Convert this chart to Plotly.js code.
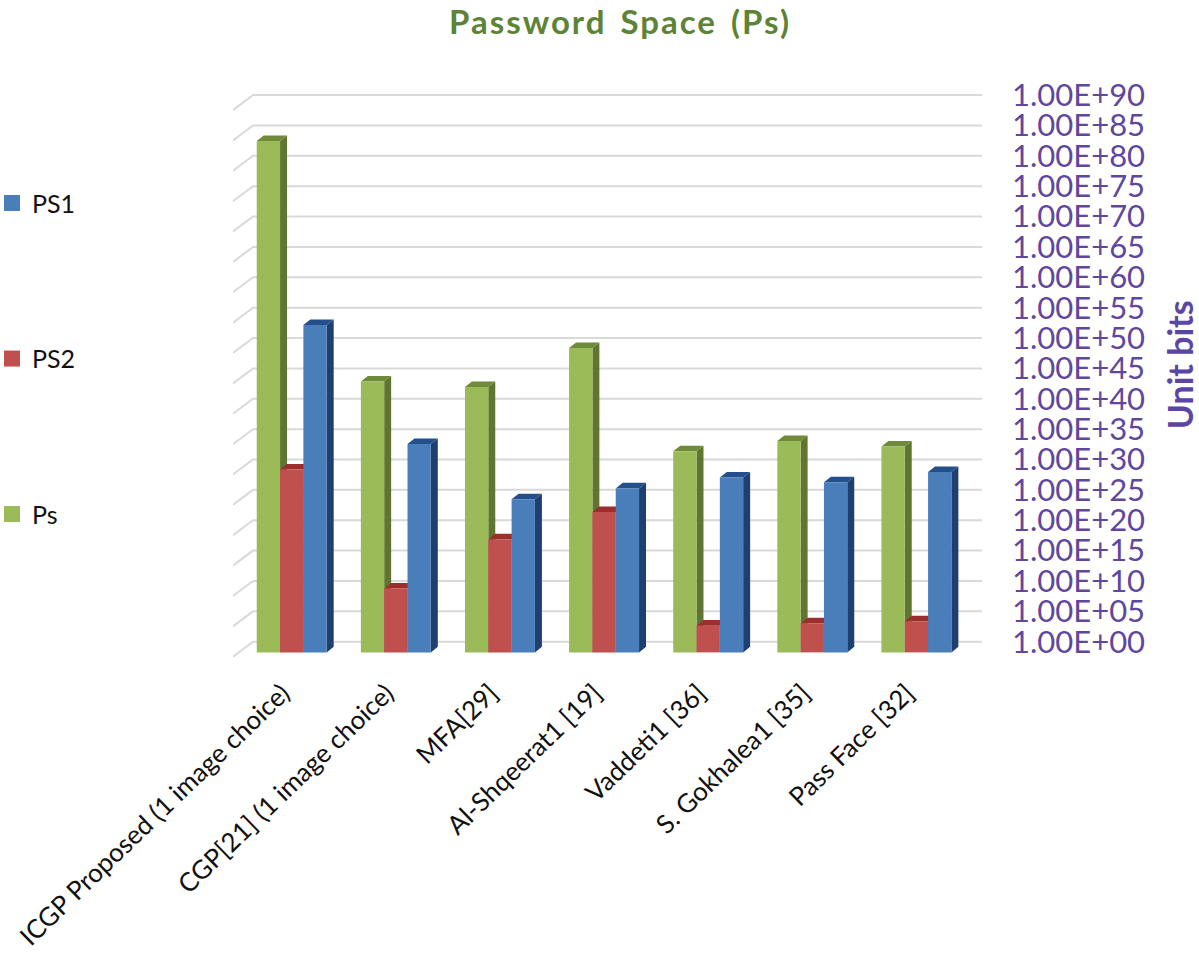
<!DOCTYPE html>
<html>
<head>
<meta charset="utf-8">
<script src="https://cdn.plot.ly/plotly-3.0.1.min.js"></script>
<style>
html, body { margin: 0; padding: 0; background: #fff; }
.gtitle { letter-spacing: 2px; word-spacing: 4px; }
</style>
</head>
<body>
<div id="chart" style="width:1199px;height:959px"></div>
<script>
const categories = ["ICGP Proposed (1 image choice)", "CGP[21] (1 image choice)", "MFA[29]", "Al-Shqeerat1 [19]", "Vaddeti1 [36]", "S. Gokhalea1 [35]", "Pass Face [32]"];
// values are the exponent of the 1.00E+xx axis
const ps = [84.2, 44.6, 43.7, 50.1, 33.1, 34.8, 33.9];
const ps2 = [30.1, 10.5, 18.6, 23.1, 4.4, 4.8, 5.1];
const ps1 = [53.9, 34.3, 25.2, 27.0, 28.8, 28.0, 29.7];
const tickExps = [0, 5, 10, 15, 20, 25, 30, 35, 40, 45, 50, 55, 60, 65, 70, 75, 80, 85, 90];
const tickLabels = tickExps.map((e) => "1.00E+" + String(e).padStart(2, "0"));

const seriesColors = {Ps: "#9bbb59", PS2: "#c0504d", PS1: "#4a7ebb"};
const sideColors = {Ps: "#5f7530", PS2: "#8c3836", PS1: "#1f3f70"};
const topColors = {Ps: "#6f8a38", PS2: "#9c2f2c", PS1: "#23508c"};

// fake 3d: depth of the bars and the wall, in axis units
const xRange = [-0.564, 6.63];
const yRange = [-4, 91];
const barGap = 0.328;
const barWidth = (1 - barGap) / 3;
const barBase = -1.76;
const depthX = 0.067;
const depthY = 0.92;
const wallX = 0.192;
const wallY = 2.47;
const labelShift = 0.09;

const idx = categories.map((c, i) => i);

function gridTrace() {
  let x = [], y = [];
  tickExps.forEach((e) => {
    x.push(xRange[0], xRange[0] + wallX, xRange[1], null);
    y.push(e - wallY, e, e, null);
  });
  return {x, y, mode: "lines", line: {color: "#d9d9d9", width: 2}, showlegend: false, hoverinfo: "skip", cliponaxis: false};
}

function faceTraces(name, values, slot) {
  let sideX = [], sideY = [], topX = [], topY = [];
  values.forEach((v, i) => {
    let left = i - 1.5 * barWidth + slot * barWidth;
    let right = left + barWidth;
    let top = barBase + v;
    sideX.push(right, right + depthX, right + depthX, right, null);
    sideY.push(barBase, barBase + depthY, top + depthY, top, null);
    topX.push(left, left + depthX, right + depthX, right, null);
    topY.push(top, top + depthY, top + depthY, top, null);
  });
  let face = (x, y, color) => ({x, y, mode: "lines", fill: "toself", fillcolor: color, line: {width: 0, color: color}, showlegend: false, hoverinfo: "skip"});
  return [face(sideX, sideY, sideColors[name]), face(topX, topY, topColors[name])];
}

function barTrace(name, values) {
  return {
    type: "bar", name, x: idx, y: values, base: barBase, xaxis: "x2", yaxis: "y2",
    legendgroup: name, showlegend: false, marker: {color: seriesColors[name]},
  };
}

// legend only, the bars swatch is too small
function legendTrace(name) {
  return {
    x: [null], y: [null], name, mode: "markers", legendgroup: name,
    marker: {symbol: "square", size: 16, color: seriesColors[name]},
  };
}

const traces = [
  gridTrace(),
  ...faceTraces("Ps", ps, 0),
  ...faceTraces("PS2", ps2, 1),
  ...faceTraces("PS1", ps1, 2),
  barTrace("Ps", ps),
  barTrace("PS2", ps2),
  barTrace("PS1", ps1),
  legendTrace("PS1"),
  legendTrace("PS2"),
  legendTrace("Ps"),
];

const layout = {
  width: 1199,
  height: 959,
  margin: {l: 233, r: 217, t: 88.93, b: 293.42},
  paper_bgcolor: "#fff",
  plot_bgcolor: "#fff",
  font: {family: "Lato, sans-serif", color: "#111"},
  title: {
    text: "Password Space (Ps)",
    font: {family: "Lato, sans-serif", size: 33, weight: 700, color: "#5c8336"},
    x: 620 / 1199, xanchor: "center", xref: "container",
    y: 1 - 22 / 959, yanchor: "middle", yref: "container",
  },
  barmode: "group",
  bargap: barGap,
  bargroupgap: 0,
  xaxis: {
    range: xRange, tickmode: "array", tickvals: idx.map((i) => i - labelShift), ticktext: categories,
    tickangle: -44, ticks: "", ticklabelstandoff: 6,
    tickfont: {size: 26, color: "#111"},
    showgrid: false, zeroline: false, showline: false,
  },
  yaxis: {
    range: yRange, side: "right", tickmode: "array", tickvals: tickExps, ticktext: tickLabels,
    ticks: "", ticklabelstandoff: 29,
    tickfont: {size: 31, color: "#5f479f"},
    showgrid: false, zeroline: false, showline: false,
  },
  xaxis2: {range: xRange, overlaying: "x", visible: false},
  yaxis2: {range: yRange, overlaying: "y", visible: false},
  annotations: [{
    text: "Unit bits", textangle: -90, showarrow: false,
    xref: "paper", yref: "paper", x: (1179 - 233) / 749, y: (665.6 - 365) / 576.65,
    xanchor: "center", yanchor: "middle",
    font: {size: 34, weight: 700, color: "#5b46a5"},
  }],
  legend: {
    xref: "container", yref: "container", x: 0, xanchor: "left", y: 0.812, yanchor: "top",
    traceorder: "grouped", tracegroupgap: 120,
    font: {size: 25, color: "#111"},
  },
  showlegend: true,
};

Plotly.newPlot("chart", traces, layout, {displayModeBar: false}).then(() => {
  // the legend can not go past the container edge through its own x
  let legend = document.querySelector("#chart .legend");
  let y = legend.getAttribute("transform").match(/translate\(\s*[-\d.]+\s*,\s*([-\d.]+)/)[1];
  legend.setAttribute("transform", "translate(-8," + y + ")");
});
</script>
</body>
</html>
